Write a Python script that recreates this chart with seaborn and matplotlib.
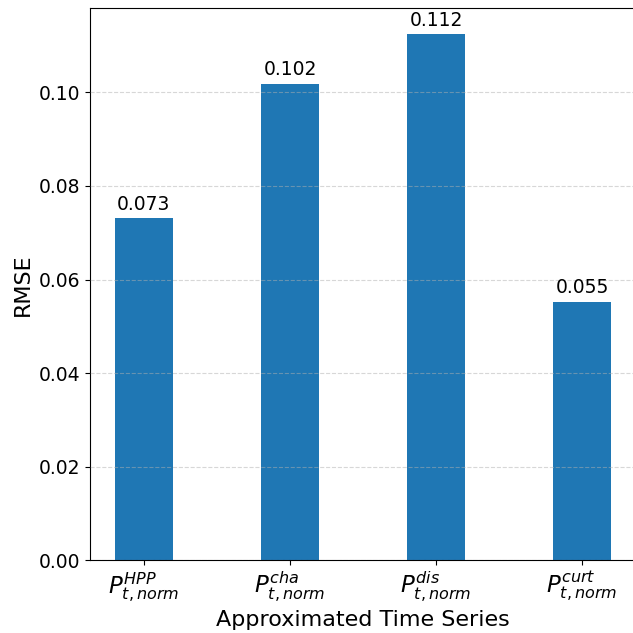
import matplotlib
matplotlib.use("Agg")
import matplotlib.pyplot as plt
import seaborn as sns
import pandas as pd

categories = [r"$P_{t,norm}^{HPP}$", r"$P_{t,norm}^{cha}$", r"$P_{t,norm}^{dis}$", r"$P_{t,norm}^{curt}$"]
rmse = [0.0731, 0.1019, 0.1124, 0.0553]

df = pd.DataFrame({"series": categories, "rmse": rmse})

fig = plt.figure(figsize=(6.33, 6.33), dpi=100)
ax = fig.add_axes([0.142, 0.115, 0.863, 0.872])
sns.barplot(data=df, x="series", y="rmse", color="#1f77b4", saturation=1, width=0.4, ax=ax)
ax.yaxis.grid(True, linestyle="--", alpha=0.5)
ax.set_axisbelow(False)
for c in ax.containers:
    ax.bar_label(c, fmt="%.3f", padding=3, fontsize=13.5)
ax.set_xlabel("Approximated Time Series", fontsize=16)
ax.set_ylabel("RMSE", fontsize=16)
ax.tick_params(axis="y", labelsize=13.5)
ax.tick_params(axis="x", labelsize=16.5)
ax.set_xlim(-0.37, 3.37)
ax.set_ylim(0, 0.118)
fig.savefig("out.png", dpi=100)
